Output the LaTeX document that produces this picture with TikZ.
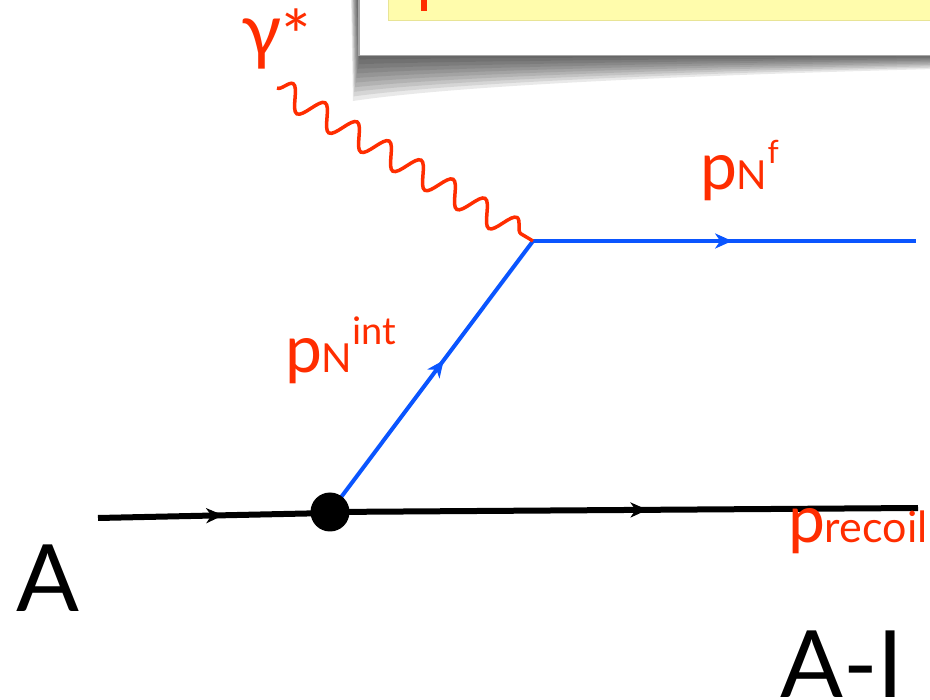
\documentclass[tikz,border=0pt]{standalone}
\usepackage{fontspec}
\setmainfont{Lato}
\usetikzlibrary{arrows.meta,decorations.pathmorphing,decorations.markings}
\definecolor{pred}{RGB}{255,45,0}
\definecolor{pblue}{RGB}{10,85,255}
\definecolor{pyellow}{RGB}{255,252,172}
\definecolor{pyborder}{RGB}{232,228,150}
\tikzset{
  midarrow/.style={postaction={decorate},decoration={markings,
     mark=at position #1 with {\arrow{Stealth[length=17pt,width=15pt,inset=5pt]}}}},
  hadron/.style={line width=6pt,black},
  nucleon/.style={line width=4pt,pblue},
  photon/.style={pred,line width=3.5pt,decorate,
     decoration={snake,segment length=37.27pt,amplitude=12pt}},
  lbl/.style={pred,anchor=base west,inner sep=0pt,outer sep=0pt},
  big/.style={black,anchor=base west,inner sep=0pt,font=\fontsize{93}{93}\selectfont}
}
\newcommand\bigP{\fontsize{66}{66}\selectfont p}
\newcommand\subN[1]{\fontsize{#1}{#1}\selectfont N}
\begin{document}
\begin{tikzpicture}[x=1pt,y=-1pt]
\useasboundingbox (0,0) rectangle (930,700);
\clip (0,0) rectangle (930,700);
% shadow under the top box
\foreach \k in {1,...,10}{
  \fill[black,opacity=0.085] ({358-0.7*\k},-5) -- (935,-5) -- (935,{55+1.4*\k})
     .. controls (700,{55+2.0*\k}) and (460,{55+3.0*\k}) .. ({360-0.7*\k},{55+4.6*\k}) -- cycle;
}
% top box
\node[draw=black!35,line width=1.5pt,fill=white,inner sep=0pt,anchor=north west,
      minimum width=600pt,minimum height=70pt] (box) at (358,-15) {};
\node[draw=pyborder,line width=1.2pt,fill=pyellow,inner sep=0pt,anchor=north west,
      minimum width=560pt,minimum height=35pt] (ybox) at (388,-15) {};
\fill[pred] (421,-5) rectangle (427,11);
% coordinates
\coordinate (ain) at (98,518);
\coordinate (aout) at (918,508);
\coordinate (top) at (533,241);
\coordinate (fout) at (916,241);
\coordinate (gstart) at (277,88);
% lines
\draw[nucleon,midarrow=0.56] (330,512) -- (top);
\draw[nucleon,midarrow=0.52] (top) -- (fout);
\draw[photon] (gstart) -- (top);
\draw[hadron,midarrow=0.54] (ain) -- (330,513);
\draw[hadron,midarrow=0.54] (330,512) -- (aout);
\node[circle,fill=black,minimum size=39pt,inner sep=0pt] (v) at (330,512) {};
% labels
\node[lbl] (gam) at (241,57) {\fontsize{74}{74}\selectfont γ\raisebox{-5pt}{\fontsize{70}{70}\selectfont *}};
\node[lbl] (pnf) at (700,190) {\bigP\subN{40}\raisebox{26pt}{\fontsize{32}{32}\selectfont f}};
\node[lbl] (pnint) at (285,373) {\bigP\subN{40}\raisebox{28pt}{\fontsize{38}{38}\selectfont int}};
\node[lbl] (prec) at (788,543) {\bigP\fontsize{43}{43}\selectfont recoil};
\node[big] (A) at (16,612) {A};
\node[big] (AI) at (780,697) {A-I};
\end{tikzpicture}
\end{document}
